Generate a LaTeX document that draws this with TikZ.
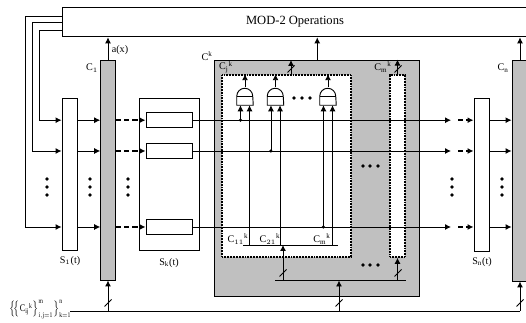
\documentclass[tikz,border=0pt]{standalone}
\usepackage{fontspec}
\setmainfont{Liberation Serif}
\usepackage{graphicx}
\usepackage{tikz}
\usetikzlibrary{arrows.meta,calc,positioning}
\definecolor{regfill}{RGB}{192,192,192}
\tikzset{
  sig/.style={line width=0.7pt,-{Latex[length=4.5pt,width=4.5pt]}},
  dashsig/.style={line width=1.3pt,dash pattern=on 4pt off 2.2pt,-{Latex[length=4.5pt,width=4.5pt]}},
  plain/.style={line width=0.7pt},
  box/.style={draw,line width=0.7pt,inner sep=0pt,fill=white},
  reg/.style={box,fill=regfill},
  dotbox/.style={draw,line width=1.2pt,dash pattern=on 0.75pt off 0.4pt,inner sep=0pt,fill=white},
  lab/.style={inner sep=0pt,font=\fontsize{7.6}{9}\selectfont}
}
\begin{document}
\begin{tikzpicture}[x=0.75pt,y=-0.75pt]
\clip (0,0) rectangle (526,323);
% Top block
\node[box,minimum width=358.5pt,minimum height=22pt] (mod) at (301,22.25) {};
\node[inner sep=0pt,font=\fontsize{9.4}{11}\selectfont] (modtext) at (295,21.5) {MOD-2 Operations};

% Registers
\node[box,minimum width=11.25pt,minimum height=114pt] (s1) at (69.5,174) {};
\node[reg,minimum width=11pt,minimum height=165pt] (c1) at (108,170) {};
\node[box,minimum width=45pt,minimum height=114pt] (sk) at (169,174) {};
\node[reg,minimum width=154pt,minimum height=177pt] (ck) at (317.25,178) {};
\node[dotbox,minimum width=96.75pt,minimum height=136.5pt] (ci) at (286.5,166) {};
\node[dotbox,minimum width=11.25pt,minimum height=136.5pt] (cm) at (397.5,166) {};
\node[box,minimum width=11.25pt,minimum height=114.75pt] (sn) at (481.5,174.5) {};
\node[reg,minimum width=12pt,minimum height=165.75pt] (cn) at (520,170.5) {};

% Rows
\foreach \i/\y in {1/120.2,2/151,3/227}
{
  \coordinate (row\i) at (0,\y);
  \coordinate (m\i) at (451,\y);
  \coordinate (q\i) at (458,\y);
  \node[box,minimum width=34.5pt,minimum height=11.5pt] (r\i) at (169,\y) {};
  \draw[sig] (s1.east |- row\i) -- (c1.west |- row\i);
  \draw[dashsig] (c1.east |- row\i) -- (r\i.west);
  \draw[sig] (r\i.east) -- (m\i);
  \draw[dashsig] (q\i) -- (sn.west |- row\i);
  \draw[sig] (sn.east |- row\i) -- (cn.west |- row\i);
}

% Feedback from top block
\foreach \y/\xx/\i in {16/25/3,22/32/2,30/39/1}
  \draw[sig] (mod.west |- 0,\y) -- (\xx,\y) -- (\xx,0 |- row\i) -- (s1.west |- row\i);

% Gates
\foreach \i/\x/\r in {1/245/1,2/275.5/2,3/328/3}
{
  \node[inner sep=0pt,minimum width=12pt,minimum height=13.5pt] (g\i) at (\x,96) {};
  \draw[plain] (g\i.south west) -- ++(0,-9) arc[start angle=180,end angle=0,radius=6pt] -- (g\i.south east) -- cycle;
  \draw[plain] ($(g\i.south west)+(0,-9)$) -- ++(16,0);
  \draw[sig] (g\i.north) -- (g\i.north |- ci.north);
  \draw[sig] ([xshift=-3.4pt]g\i.south |- row\r) -- ([xshift=-3.4pt]g\i.south);
  \fill ([xshift=-3.4pt]g\i.south |- row\r) circle (1.3pt);
}

% Inner buses
\coordinate (busa) at (243,245);
\coordinate (busb) at (338,245);
\coordinate (busc) at (275,280.5);
\coordinate (busd) at (406,280.5);
\coordinate (buse) at (70,311);
\coordinate (busf) at (520,311);
\draw[plain] (busa) -- (busb);
\draw[plain] (busc) -- (busd);
\draw[plain] (buse) -- (busf);
\foreach \i in {1,2,3}
  \draw[sig] ([xshift=3.4pt]g\i.south |- busa) -- ([xshift=3.4pt]g\i.south);
\draw[sig] (283,280.5) -- (283,245);
\draw[sig] (cm.south |- busc) -- (cm.south);
\draw[sig] (339,311) -- (339,280.5);
\draw[sig] (c1.south |- buse) -- (c1.south);
\draw[sig] (cn.south |- buse) -- (cn.south);

% Outputs
\draw[sig] (c1.north) -- (c1.north |- mod.south);
\draw[sig] (ck.north) -- (ck.north |- mod.south);
\draw[sig] (cn.north) -- (cn.north |- mod.south);
\draw[sig] (291,75) -- (291,60);
\draw[sig] (cm.north) -- (cm.north |- ck.north);

% Slashes
\foreach \x/\y in {108/303,339/303,520/303,283/273,398/273,291/69,398/69}
  \draw[plain] (\x-3.5,\y+3.5) -- (\x+3.5,\y-3.5);

% Dots
\foreach \x in {47,90,128,452,502}
  \foreach \y in {179,187,195}
    \fill (\x,\y) circle (1.4pt);
\foreach \x in {294,302,310}
  \fill (\x,98) circle (1.4pt);
\foreach \x in {363,370,378}
{
  \fill (\x,166) circle (1.4pt);
  \fill (\x,265) circle (1.4pt);
}

% Labels
\node[lab] (lax) at (120,50) {a(x)};
\node[lab] (lc1) at (92,68) {C$_{1}$};
\node[lab] (lcn) at (503,68) {C$_{\mathrm{n}}$};
\node[lab] (lck) at (207,56) {C$^{\mathrm{k}}$};
\node[lab] (lcj) at (226,67) {C$_{\mathrm{j}}{}^{\mathrm{k}}$};
\node[lab] (lcm) at (383,67) {C$_{\mathrm{m}}{}^{\mathrm{k}}$};
\node[lab] (ls1) at (70,261) {S$_{1}$(t)};
\node[lab] (lsk) at (169,263) {S$_{\mathrm{k}}$(t)};
\node[lab] (lsn) at (482,262) {S$_{\mathrm{n}}$(t)};
\node[lab] (l11) at (238,239) {C$_{11}{}^{\mathrm{k}}$};
\node[lab] (l21) at (270,239) {C$_{21}{}^{\mathrm{k}}$};
\node[lab] (lm) at (322,239) {C$_{\mathrm{m}}{}^{\mathrm{k}}$};
\node[lab] (lset) at (40,310) {\scalebox{0.8}[1]{$\bigl\{\!\bigl\{$C$_{\mathrm{ij}}{}^{\mathrm{k}}\bigr\}_{\mathrm{i,j=1}}^{\mathrm{m}}\bigr\}_{\mathrm{k=1}}^{\mathrm{n}}$}};
\end{tikzpicture}
\end{document}
